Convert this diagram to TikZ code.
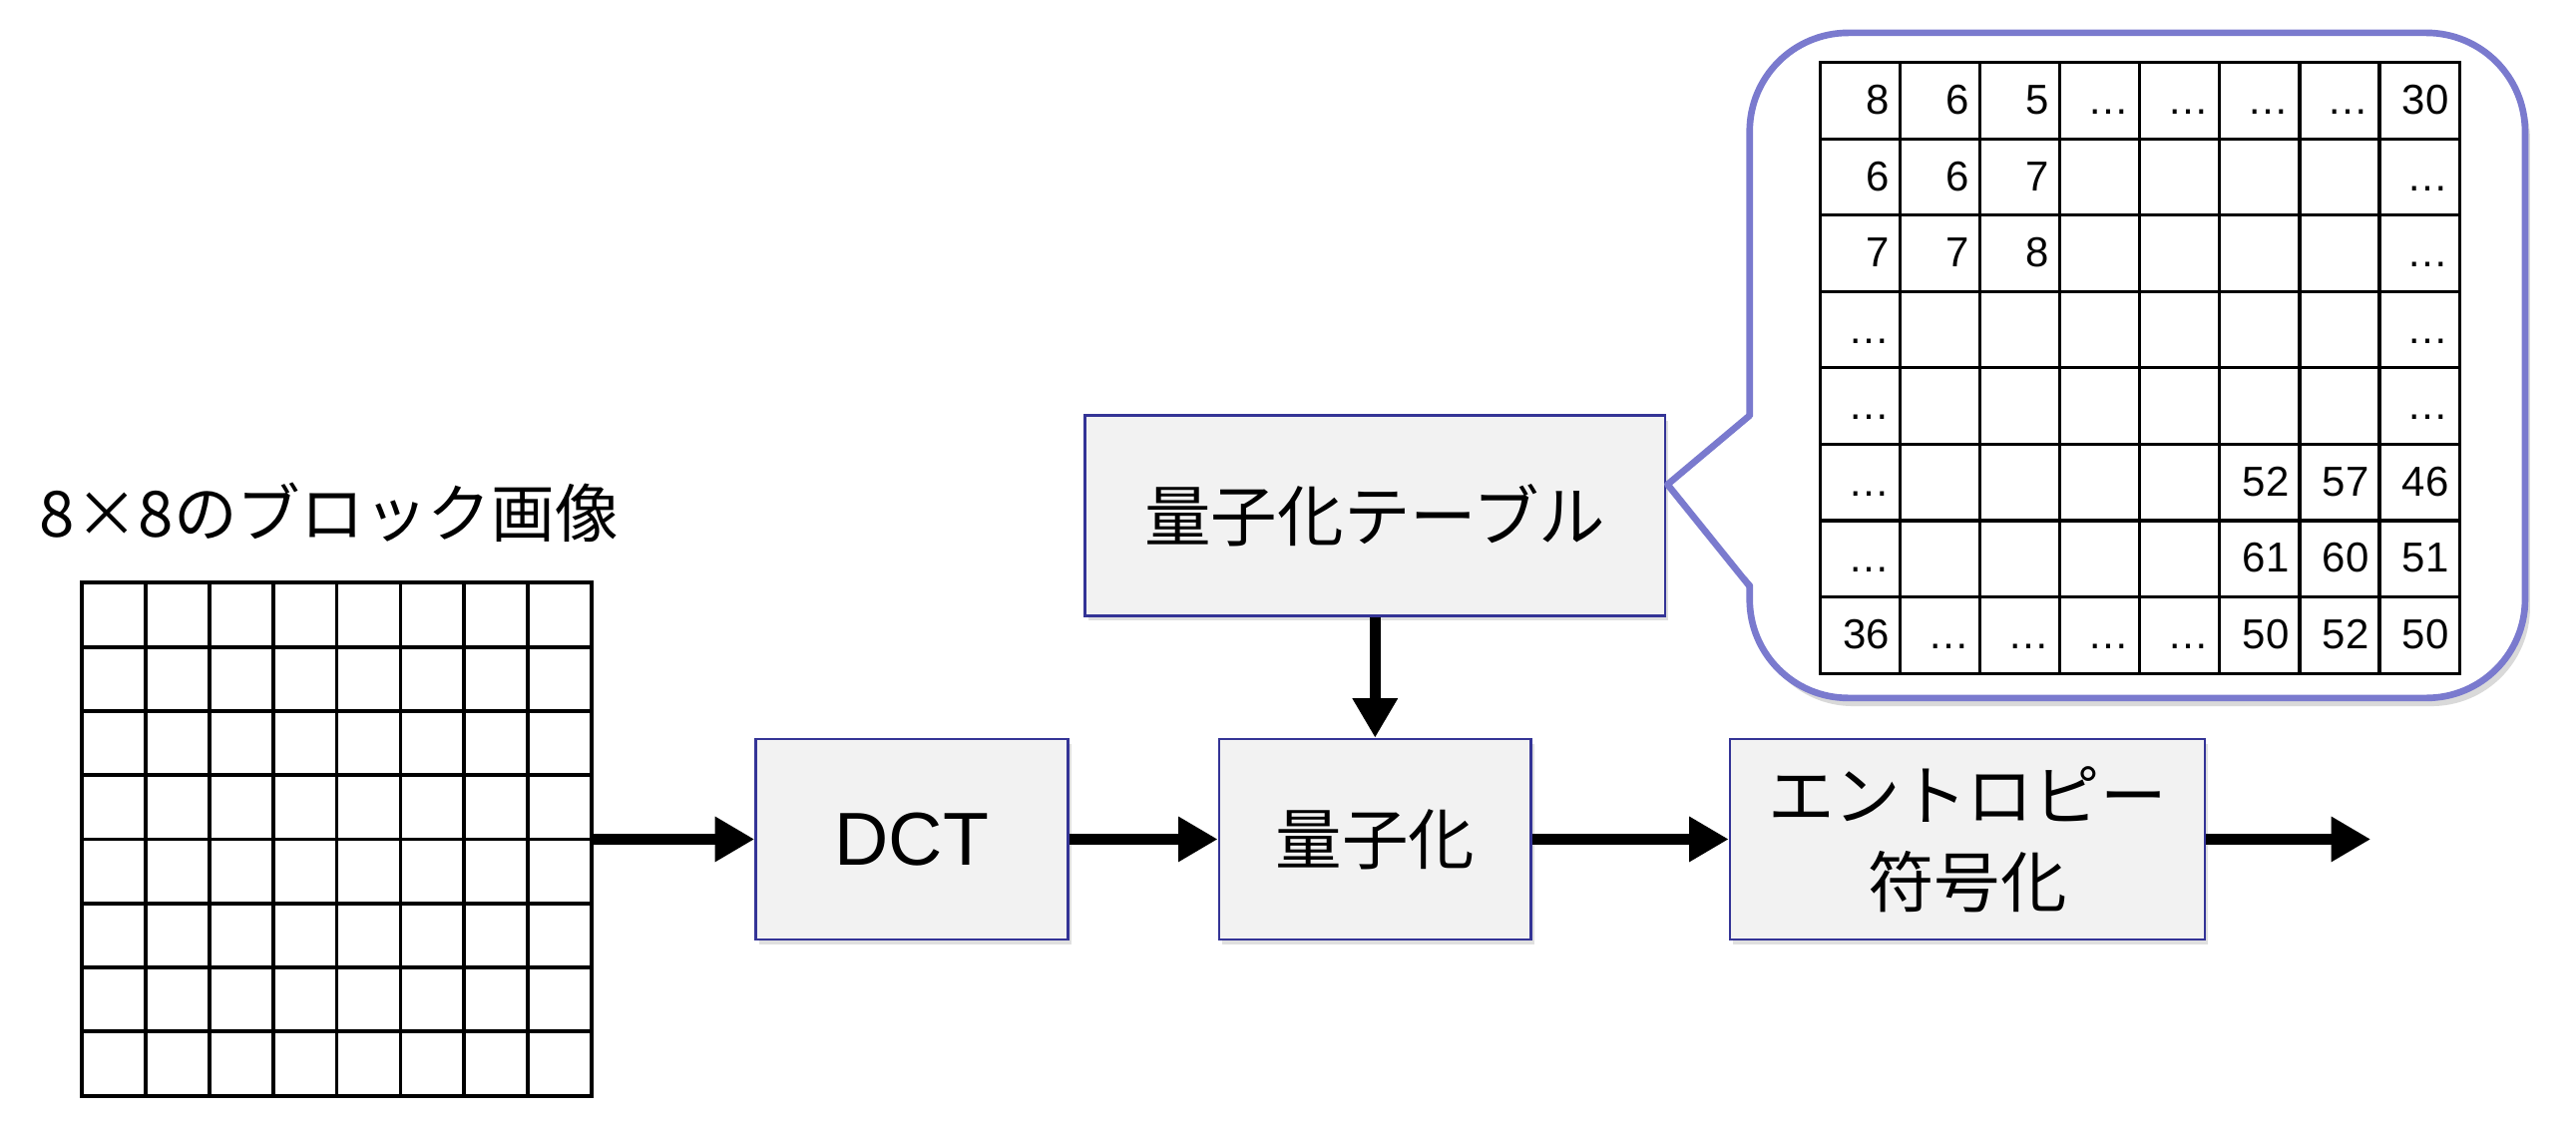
\documentclass[tikz,border=0pt]{standalone}
\usepackage{fontspec}
\newfontfamily\jpfont{Noto Sans CJK JP}
\newfontfamily\numfont{Liberation Sans}
\usetikzlibrary{arrows.meta,shadows}
\definecolor{boxblue}{RGB}{52,52,150}
\definecolor{boxfill}{RGB}{242,242,242}
\definecolor{calloutblue}{RGB}{122,122,206}
\begin{document}
\begin{tikzpicture}[x=0.02cm,y=-0.02cm,
  every node/.style={font=\jpfont\fontsize{23}{30}\selectfont},
  procbox/.style={draw=boxblue,line width=0.9pt,fill=boxfill,minimum height=2.44cm,align=center,inner sep=0pt,
    drop shadow={shadow xshift=0.04cm,shadow yshift=-0.06cm,opacity=0.25}},
  flow/.style={line width=4pt,-{Triangle[length=0.48cm,width=0.52cm]}},
  cellnum/.style={font=\numfont\fontsize{14.5}{16}\selectfont,anchor=base east,inner sep=0pt}]
\useasboundingbox (0,0) rectangle (1568,685);
% 8x8 block image
\node[inner sep=0pt,minimum width=6.2cm,minimum height=6.24cm] (blk) at (205,511) {};
\foreach \i in {1,...,7} {
  \draw[line width=1.3pt] (50+\i*38.75,355) -- ++(0,312);
  \draw[line width=1.3pt] (50,355+\i*39) -- ++(310,0);
}
\draw[line width=1.3pt] (blk.south west) rectangle (blk.north east);
\node[anchor=west,font=\jpfont\fontsize{22}{28}\selectfont] (ttl) at (18,312) {8×8のブロック画像};
% processing chain
\node[procbox,minimum width=3.8cm,font=\numfont\fontsize{26}{30}\selectfont] (dct) at (555,511) {DCT};
\node[procbox,minimum width=3.8cm] (quant) at (837,511) {量子化};
\node[procbox,minimum width=5.78cm] (ent) at (1197.5,511) {エントロピー\\符号化};
\node[procbox,minimum width=7.06cm] (qtab) at (837,314) {量子化テーブル};
\coordinate (out) at (1443,511);
\draw[flow] (blk.east) -- (dct.west);
\draw[flow] (dct) -- (quant);
\draw[flow] (quant) -- (ent);
\draw[flow] (ent) -- (out);
\draw[flow] (qtab) -- (quant);
% callout with the table
\draw[calloutblue,line width=2.3pt,fill=white,rounded corners=1.2cm,
  drop shadow={shadow xshift=0.06cm,shadow yshift=-0.1cm,opacity=0.3}] (1065,20) rectangle (1537,425);
\fill[white] (1068,253) -- (1015,295) -- (1068,357) -- cycle;
\draw[calloutblue,line width=2.3pt,line join=round] (1065,253) -- (1015,295) -- (1065,357);
\draw[line width=1.1pt] (1108,38) rectangle (1497,410);
\foreach \i in {1,...,7} {
  \draw[line width=1.1pt] (1108+\i*48.625,38) -- ++(0,372);
  \draw[line width=1.1pt] (1108,38+\i*46.5) -- ++(389,0);
}
\foreach \row [count=\r] in {{8,6,5,…,…,…,…,30},{6,6,7,,,,,…},{7,7,8,,,,,…},{…,,,,,,,…},{…,,,,,,,…},{…,,,,,52,57,46},{…,,,,,61,60,51},{36,…,…,…,…,50,52,50}} {
  \foreach \v [count=\c] in \row {
    \node[cellnum] (q\r-\c) at (1108+\c*48.625-6,38+\r*46.5-15) {\v};
  }
}
\end{tikzpicture}
\end{document}
